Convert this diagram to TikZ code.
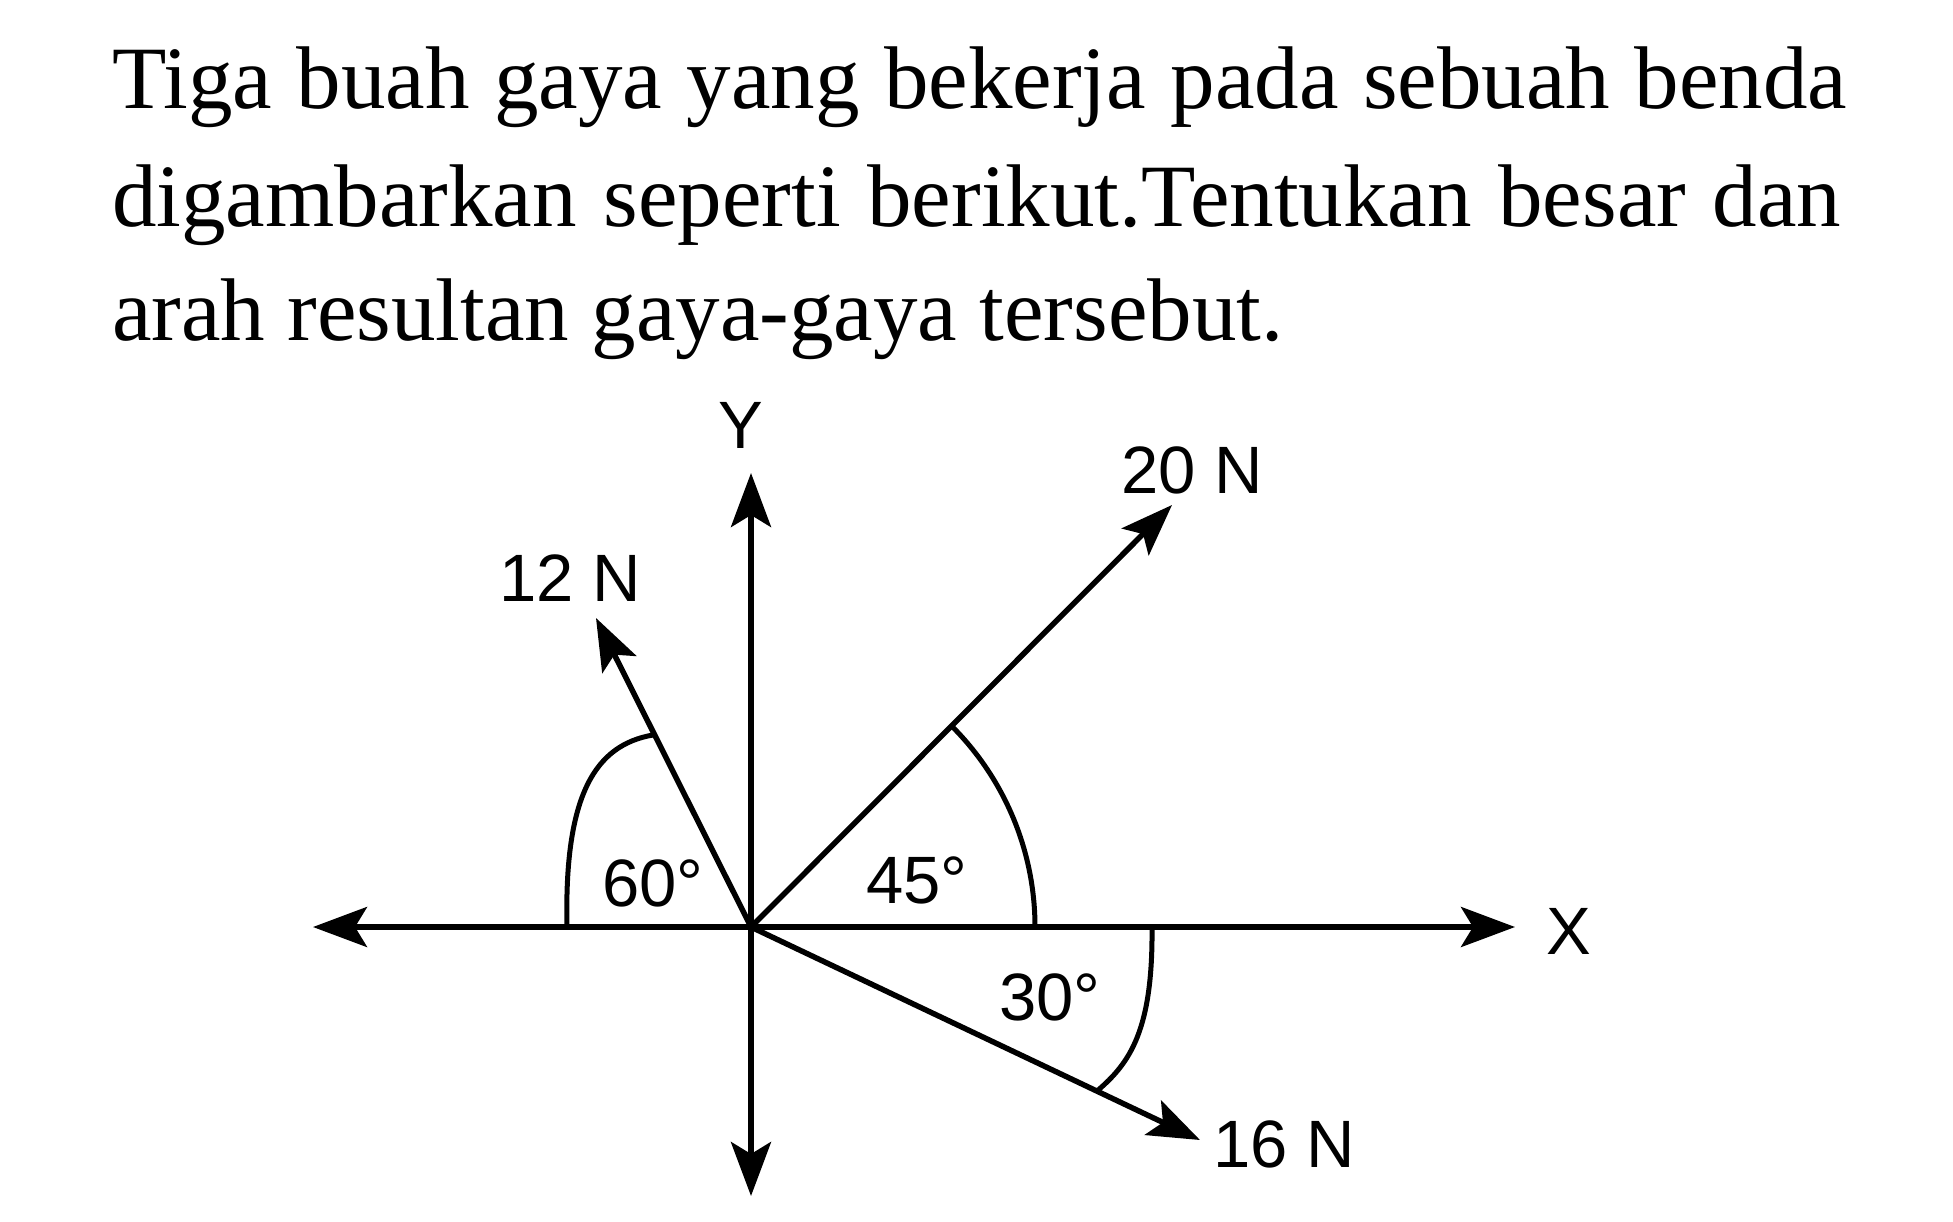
\documentclass[tikz,border=0pt]{standalone}
\usepackage{fontspec}
\setmainfont{Liberation Serif}
\newfontfamily\lblfont{Liberation Sans}
\usetikzlibrary{arrows.meta}
\begin{document}
\begin{tikzpicture}[x=1pt,y=-1pt,
  axisline/.style={line width=5.5pt,{Stealth[length=54pt,width=40pt,inset=12pt]}-{Stealth[length=54pt,width=40pt,inset=12pt]}},
  force/.style={line width=5.5pt,-{Stealth[length=52pt,width=38pt,inset=11pt]}},
  anglearc/.style={line width=5pt},
  lbl/.style={inner sep=0pt,font=\lblfont\fontsize{67}{67}\selectfont},
  para/.style={inner sep=0pt,anchor=base west,font=\fontsize{89}{116}\selectfont}
]
\useasboundingbox (0,0) rectangle (1953,1222);
% question text
\node[para] (l1) at (112,109) {\makebox[1735pt][s]{Tiga buah gaya yang bekerja pada sebuah benda}};
\node[para] (l2) at (112,227) {\makebox[1729pt][s]{digambarkan seperti berikut.Tentukan besar dan}};
\node[para] (l3) at (112,341) {arah resultan gaya-gaya tersebut.};
% coordinates
\coordinate (O) at (751,927);
\coordinate (xl) at (313,927);
\coordinate (xr) at (1515,927);
\coordinate (yt) at (751,473);
\coordinate (yb) at (751,1196);
\coordinate (f12) at (596,618);
\coordinate (f20) at (1172,505);
\coordinate (f16) at (1200,1140);
% axes
\draw[axisline] (xl) -- (xr);
\draw[axisline] (yb) -- (yt);
% forces
\draw[force] (O) -- (f12);
\draw[force] (O) -- (f20);
\draw[force] (O) -- (f16);
% angle arcs
\draw[anglearc] (567,927) .. controls (564,795) and (595,745) .. (653,735);
\draw[anglearc] (1035,927) arc[start angle=0,end angle=-45,radius=284];
\draw[anglearc] (1152,927) .. controls (1153,1030) and (1130,1063) .. (1097,1091);
% labels
\node[lbl] (ly) at (741,425) {Y};
\node[lbl] (lx) at (1569,931) {X};
\node[lbl] (n12) at (570,578) {12 N};
\node[lbl] (n20) at (1192,470) {20 N};
\node[lbl] (n16) at (1284,1144) {16 N};
\node[lbl] (a60) at (653,883) {60°};
\node[lbl] (a45) at (917,880) {45°};
\node[lbl] (a30) at (1050,997) {30°};
\end{tikzpicture}
\end{document}
